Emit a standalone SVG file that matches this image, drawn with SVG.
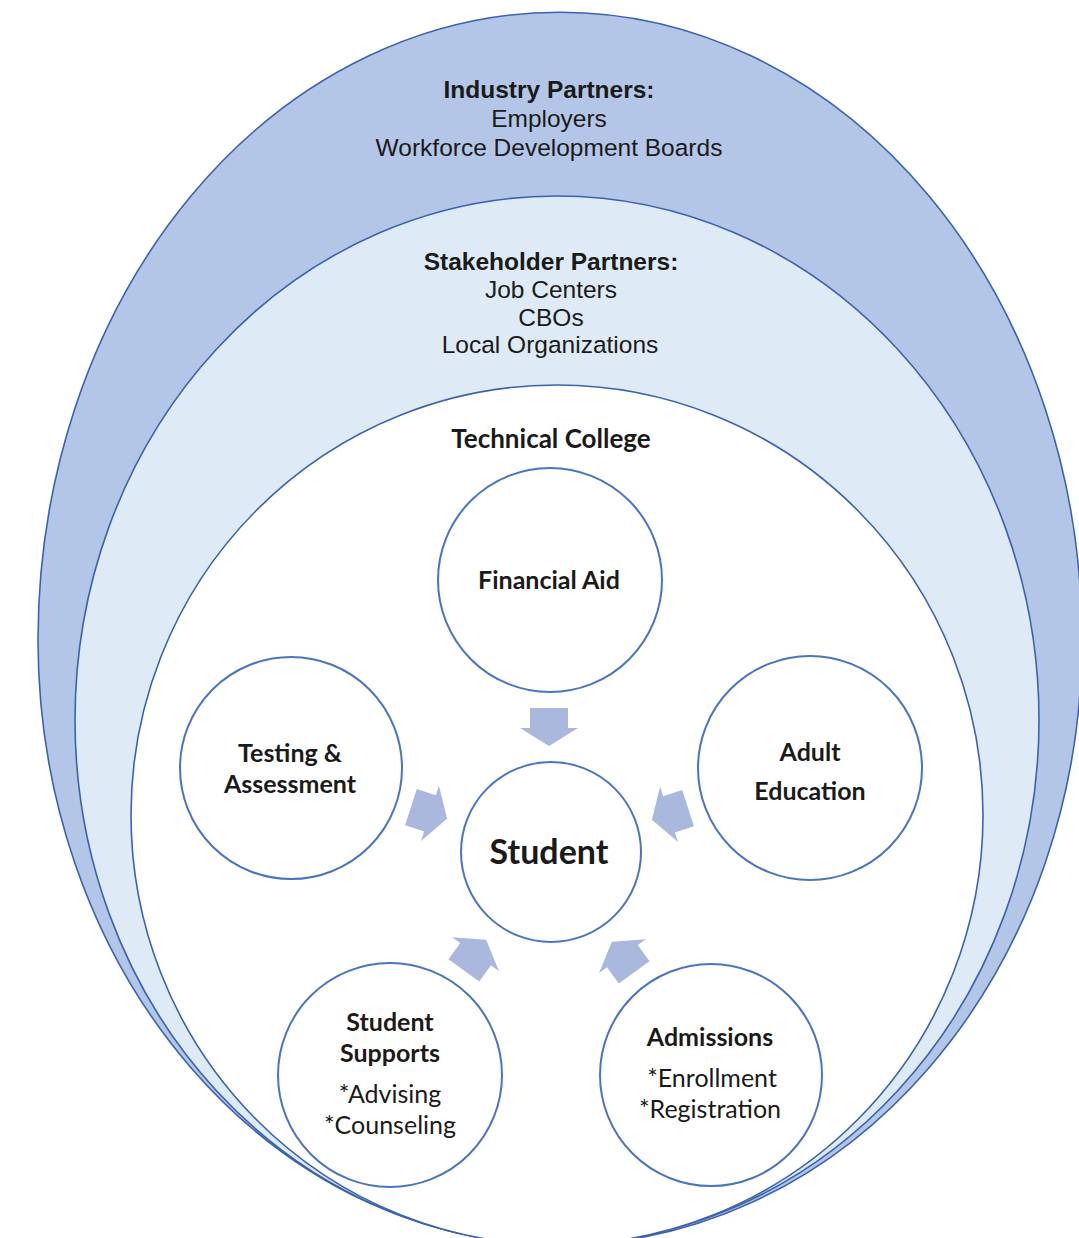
<svg xmlns="http://www.w3.org/2000/svg" width="1079" height="1238" viewBox="0 0 1079 1238">
<style>
.band{stroke:#3b63ad;stroke-width:1.6}
.node{fill:#ffffff;stroke:#4a74c0;stroke-width:2}
.arrow{fill:#aab8de}
.hdr{font-family:"Liberation Sans",Arial,sans-serif;font-size:24.5px;fill:#1a1a1a;text-anchor:middle;dominant-baseline:central}
.hb{font-weight:bold}
.lbl{font-family:Lato,"Noto Sans",sans-serif;font-size:25px;font-weight:bold;fill:#1a1a1a;text-anchor:middle;dominant-baseline:central}
.sub{font-family:Lato,"Noto Sans",sans-serif;font-size:25px;fill:#1a1a1a;text-anchor:middle;dominant-baseline:central}
</style>
<defs>
<polygon id="blk" points="-19,-19 1,-19 1,-29 19,0 1,29 1,19 -19,19"/>
</defs>
<rect width="1079" height="1238" fill="#ffffff"/>
<g id="industry">
<path class="band" fill="#b4c6e7" d="M 38,640 A 522 628 0 0 1 1082,640 A 522 605 0 0 1 38,640 Z"/>
<text class="hdr hb" x="549" y="89">Industry Partners:</text>
<text class="hdr" x="549" y="118">Employers</text>
<text class="hdr" x="549" y="147">Workforce Development Boards</text>
</g>
<g id="stakeholder">
<ellipse class="band" fill="#deebf7" cx="557" cy="720" rx="482" ry="524"/>
<text class="hdr hb" x="551" y="261">Stakeholder Partners:</text>
<text class="hdr" x="551" y="289">Job Centers</text>
<text class="hdr" x="551" y="317">CBOs</text>
<text class="hdr" x="550" y="344">Local Organizations</text>
</g>
<g id="college">
<ellipse class="band" fill="#ffffff" cx="557" cy="815" rx="426" ry="430"/>
<text class="lbl" x="551" y="438" style="font-size:26px">Technical College</text>
</g>
<g id="financial-aid">
<circle class="node" cx="550" cy="580" r="112"/>
<text class="lbl" x="549" y="579">Financial Aid</text>
</g>
<g id="testing">
<circle class="node" cx="291" cy="768" r="111"/>
<text class="lbl" x="290" y="752">Testing &amp;</text>
<text class="lbl" x="290" y="783">Assessment</text>
</g>
<g id="adult-education">
<circle class="node" cx="810" cy="768" r="112"/>
<text class="lbl" x="810" y="751">Adult</text>
<text class="lbl" x="810" y="790">Education</text>
</g>
<g id="student">
<circle class="node" cx="551" cy="852" r="90"/>
<text class="lbl" x="549" y="850" style="font-size:34px">Student</text>
</g>
<g id="student-supports">
<circle class="node" cx="390" cy="1075" r="112"/>
<text class="lbl" x="390" y="1021">Student</text>
<text class="lbl" x="390" y="1052">Supports</text>
<text class="sub" x="390" y="1093">*Advising</text>
<text class="sub" x="390" y="1124">*Counseling</text>
</g>
<g id="admissions">
<circle class="node" cx="711" cy="1075" r="111"/>
<text class="lbl" x="710" y="1036">Admissions</text>
<text class="sub" x="712" y="1077">*Enrollment</text>
<text class="sub" x="710" y="1108">*Registration</text>
</g>
<g id="connectors">
<use href="#blk" class="arrow" transform="translate(549,727) rotate(90)"/>
<use href="#blk" class="arrow" transform="translate(429,813) rotate(18)"/>
<use href="#blk" class="arrow" transform="translate(670,814) rotate(162)"/>
<use href="#blk" class="arrow" transform="translate(475,955) rotate(-54)"/>
<use href="#blk" class="arrow" transform="translate(623,957) rotate(-126)"/>
</g>
</svg>
